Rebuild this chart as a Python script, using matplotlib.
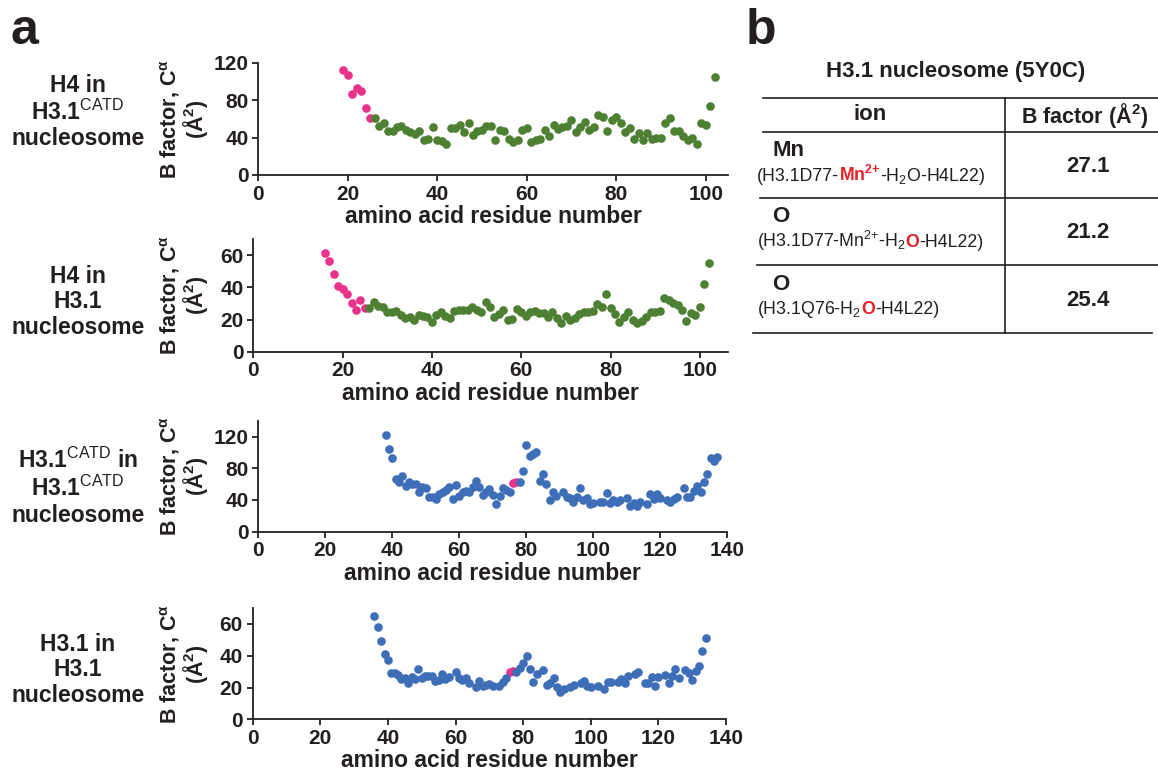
import numpy as np
import matplotlib
matplotlib.use('Agg')
import matplotlib.pyplot as plt

plt.rcParams['font.family'] = ['Liberation Sans', 'DejaVu Sans']
plt.rcParams['font.weight'] = 'bold'
plt.rcParams['axes.labelweight'] = 'bold'
plt.rcParams['mathtext.fontset'] = 'custom'
plt.rcParams['mathtext.rm'] = 'Liberation Sans:bold'
plt.rcParams['mathtext.bf'] = 'Liberation Sans:bold'
plt.rcParams['mathtext.it'] = 'Liberation Sans:bold'
plt.rcParams['mathtext.sf'] = 'Liberation Sans:weight=normal'

INK = '#231f20'
PINK = '#e9328a'
GREEN = '#4e8034'
BLUE = '#3e6eb7'
RED = '#e61e25'

# ---- panel a data (B factor of C-alpha per residue) ----
# H4 in H3.1 CATD nucleosome
h4_catd_pink_res = [19, 20, 21, 22, 23, 24, 25]
h4_catd_pink = [113, 107, 87, 93, 90, 72, 61]
h4_catd_res = list(range(26, 103))
h4_catd = [61, 53, 56, 47, 47, 51, 52, 48, 46, 44, 47, 38, 39, 51, 38, 36, 33, 50, 50, 54,
           46, 56, 43, 47, 48, 53, 52, 37, 48, 47, 39, 35, 38, 48, 50, 35, 38, 39, 48, 42,
           54, 49, 51, 52, 59, 46, 51, 57, 48, 51, 64, 62, 47, 59, 62, 56, 46, 50, 39, 45,
           37, 45, 39, 40, 40, 56, 61, 47, 47, 42, 38, 40, 33, 56, 54, 74, 105]

# H4 in H3.1 nucleosome
h4_wt_pink_res = [16, 17, 18, 19, 20, 21, 22, 23, 24, 25]
h4_wt_pink = [61, 56.5, 48.5, 40.5, 39, 36, 30, 26, 32, 27]
h4_wt_res = list(range(26, 103))
h4_wt = [27.3, 31, 28.3, 27.9, 24.8, 24.4, 25.4, 22.8, 20.7, 21.3, 19.6, 22.8, 22.1, 21.7,
         18.6, 22.8, 24.8, 22.3, 21, 25.2, 25.9, 25.9, 25.9, 27.5, 25.9, 24.4, 30.6, 27.5,
         21.7, 23.2, 25.9, 19.6, 20.3, 26.5, 24.8, 22.3, 24.8, 25.2, 23.8, 23.8, 21.7, 24.8,
         20.7, 18, 22.3, 19.6, 21, 23.4, 24.4, 24.8, 25.2, 29.4, 27.9, 35.6, 27.3, 23.2,
         18.6, 21.7, 24.4, 19.6, 18, 19, 21.7, 24.8, 24.4, 25.2, 33.1, 32.1, 30, 29, 25.9,
         19.2, 23.8, 22.8, 27.9, 41.8, 54.8]

# H3.1 CATD in H3.1 CATD nucleosome
h3_catd_res = (list(range(38, 76)) + list(range(78, 90)) + list(range(91, 101))
               + list(range(102, 109)) + list(range(110, 115)) + list(range(116, 121))
               + list(range(122, 126)) + list(range(127, 138)))
h3_catd = [122, 104, 93.5, 67, 63, 70, 58, 63, 60, 60, 50.5, 57, 55.5, 44, 44, 41, 47.5,
           50.5, 52.6, 56, 41, 59, 45, 50.5, 51.4, 49.7, 57, 64, 57, 46, 49.7, 54, 46, 34.5,
           45.5, 55.6, 52.6, 49.7,
           63, 76, 109.5, 96, 97.7, 100, 64, 72.4, 60, 40, 50.5, 45,
           49.7, 44, 42, 37, 44, 54.7, 40, 43, 34.5, 35.8,
           37, 37, 49.3, 35.8, 40, 37, 40,
           43, 32.4, 36.6, 32.4, 37.9,
           34.5, 47.5, 41.3, 47.5, 42,
           40, 37.9, 40.8, 44,
           55.6, 44, 44, 51.4, 58, 49.7, 63, 72.8, 92.6, 89.7, 94]
h3_catd_pink_res = [76, 77]
h3_catd_pink = [62, 63]

# H3.1 in H3.1 nucleosome
h3_wt_res = (list(range(36, 59)) + list(range(60, 65)) + list(range(66, 72)) + [73, 74, 75]
             + list(range(78, 85)) + list(range(86, 93)) + [94, 95] + list(range(97, 101))
             + [102, 104, 105, 106] + list(range(108, 112)) + [113, 114]
             + list(range(116, 121)) + list(range(122, 127)) + list(range(128, 135)))
h3_wt = [64.9, 58.2, 49.4, 41, 37.3, 29.3, 29.3, 27.9, 25.1, 25.8, 22.6, 26.8, 25.3, 31.4,
         25.8, 27.2, 27.2, 27.2, 24.3, 24.7, 28.5, 25.1, 26.4, 29.5, 25.8, 24.7, 25.8, 22.6,
         20.1, 24.1, 20.9, 21.6, 22, 20.9, 20.9, 23.7, 25.8,
         30, 32, 35.6, 40, 31.4, 23.7, 28.5, 31, 21.6, 23, 25.8, 20.1, 17.4, 18.9, 20.5, 21.6,
         23, 24.3, 20.9, 20.5, 20.9, 19.1, 23.7, 23.7, 23.7, 25.3, 23, 27.2, 28.5, 30, 23, 23,
         26.4, 20.9, 26.4, 27.9, 23, 27.2, 31.4, 25.8, 31, 29.3, 24.7, 30.6, 33.5, 43.1, 50.9]
h3_wt_pink_res = [76, 77]
h3_wt_pink = [30, 30.4]

row_labels = ['H4 in\nH3.1$^{\\mathsf{CATD}}$\nnucleosome',
              'H4 in\nH3.1\nnucleosome',
              'H3.1$^{\\mathsf{CATD}}$ in\nH3.1$^{\\mathsf{CATD}}$\nnucleosome',
              'H3.1 in\nH3.1\nnucleosome']

# ---- panel b table ----
table_title = 'H3.1 nucleosome (5Y0C)'
table_header = ['ion', 'B factor (Å$^{2}$)']
table_ions = ['Mn', 'O', 'O']
table_values = ['27.1', '21.2', '25.4']
table_notes = [
    [('(H3.1D77-', INK, 'normal'), ('Mn$^{2{+}}$', RED, 'bold'), ('-H$_{\\mathsf{2}}$O-H4L22)', INK, 'normal')],
    [('(H3.1D77-Mn$^{\\mathsf{2{+}}}$-H$_{\\mathsf{2}}$', INK, 'normal'), ('O', RED, 'bold'), ('-H4L22)', INK, 'normal')],
    [('(H3.1Q76-H$_{\\mathsf{2}}$', INK, 'normal'), ('O', RED, 'bold'), ('-H4L22)', INK, 'normal')],
]

W, H = 1158, 774
fig = plt.figure(figsize=(W / 100, H / 100), dpi=100)
fig.patch.set_facecolor('white')

# overlay in pixel coordinates for labels and the table
ov = fig.add_axes([0, 0, 1, 1])
ov.set_xlim(0, W)
ov.set_ylim(H, 0)
ov.axis('off')


def px_axes(left, right, top, bottom):
    return fig.add_axes([left / W, 1 - bottom / H, (right - left) / W, (bottom - top) / H])


panels = [
    dict(box=(258.3, 728, 63, 175), xlim=105, ylim=120, yticks=[0, 40, 80, 120], xticks=range(0, 101, 20),
         x=h4_catd_res, y=h4_catd, px=h4_catd_pink_res, py=h4_catd_pink, color=GREEN),
    dict(box=(253.3, 728, 239, 351.7), xlim=106.3, ylim=70, yticks=[0, 20, 40, 60], xticks=range(0, 101, 20),
         x=h4_wt_res, y=h4_wt, px=h4_wt_pink_res, py=h4_wt_pink, color=GREEN),
    dict(box=(258.3, 727.3, 420.7, 531.7), xlim=140, ylim=140, yticks=[0, 40, 80, 120], xticks=range(0, 141, 20),
         x=h3_catd_res, y=h3_catd, px=h3_catd_pink_res, py=h3_catd_pink, color=BLUE),
    dict(box=(252.7, 726, 608, 719.3), xlim=140, ylim=70, yticks=[0, 20, 40, 60], xticks=range(0, 141, 20),
         x=h3_wt_res, y=h3_wt, px=h3_wt_pink_res, py=h3_wt_pink, color=BLUE),
]
label_y = [112, 302, 487, 670]

for i, p in enumerate(panels):
    ax = px_axes(*p['box'])
    ax.plot(p['px'], p['py'], 'o', color=PINK, ms=6.2, mec='none', clip_on=False)
    ax.plot(p['x'], p['y'], 'o', color=p['color'], ms=6.2, mec='none', clip_on=False)
    ax.set_xlim(0, p['xlim'])
    ax.set_ylim(0, p['ylim'])
    ax.set_xticks(list(p['xticks']))
    ax.set_yticks(p['yticks'])
    for s in ['top', 'right']:
        ax.spines[s].set_visible(False)
    for s in ['left', 'bottom']:
        ax.spines[s].set_linewidth(1.3)
        ax.spines[s].set_color(INK)
    ax.tick_params(direction='out', length=4, width=1.3, color=INK, labelcolor=INK,
                   labelsize=15, pad=3)
    ax.set_xlabel('amino acid residue number', fontsize=16.5, color=INK, labelpad=1)
    left, right, top, bottom = p['box']
    ov.text(184, (top + bottom) / 2, 'B factor, C$^{\\alpha}$\n(Å$^{2}$)', rotation=90,
            ha='center', va='center', multialignment='center', fontsize=15.5,
            color=INK, linespacing=0.95)
    ov.text(78, label_y[i], row_labels[i], ha='center', va='center', fontsize=16.5,
            color=INK, linespacing=1.15)

ov.text(10, 44, 'a', fontsize=36, color=INK, va='baseline', ha='left')
ov.text(746, 44, 'b', fontsize=36, color=INK, va='baseline', ha='left')

# table
ov.text(956, 72, table_title, ha='center', va='center', fontsize=16, color=INK)
lw = 1.2
ov.plot([763, 1158], [98.3, 98.3], color=INK, lw=lw)
ov.plot([763, 1158], [131.7, 131.7], color=INK, lw=lw)
ov.plot([760, 1158], [198, 198], color=INK, lw=lw)
ov.plot([757, 1158], [265, 265], color=INK, lw=lw)
ov.plot([753, 1152], [332.7, 332.7], color=INK, lw=lw)
ov.plot([1005, 1005], [98.3, 332.7], color=INK, lw=lw)
ov.text(870, 115, table_header[0], ha='center', va='center', fontsize=16, color=INK)
ov.text(1085, 115, table_header[1], ha='center', va='center', fontsize=15.5, color=INK)

renderer = fig.canvas.get_renderer()
row_top = [131.7, 198, 265]
for k in range(3):
    y0 = row_top[k]
    ov.text(772, y0 + 19, table_ions[k], ha='left', va='center', fontsize=16, color=INK)
    ov.text(1088, y0 + 35, table_values[k], ha='center', va='center', fontsize=16, color=INK)
    x = 757
    for s, c, wgt in table_notes[k]:
        t = ov.text(x, y0 + 49, s, ha='left', va='baseline', fontsize=12.8, color=c, fontweight=wgt)
        x += t.get_window_extent(renderer).width

fig.savefig('out.png', dpi=100, facecolor='white')
